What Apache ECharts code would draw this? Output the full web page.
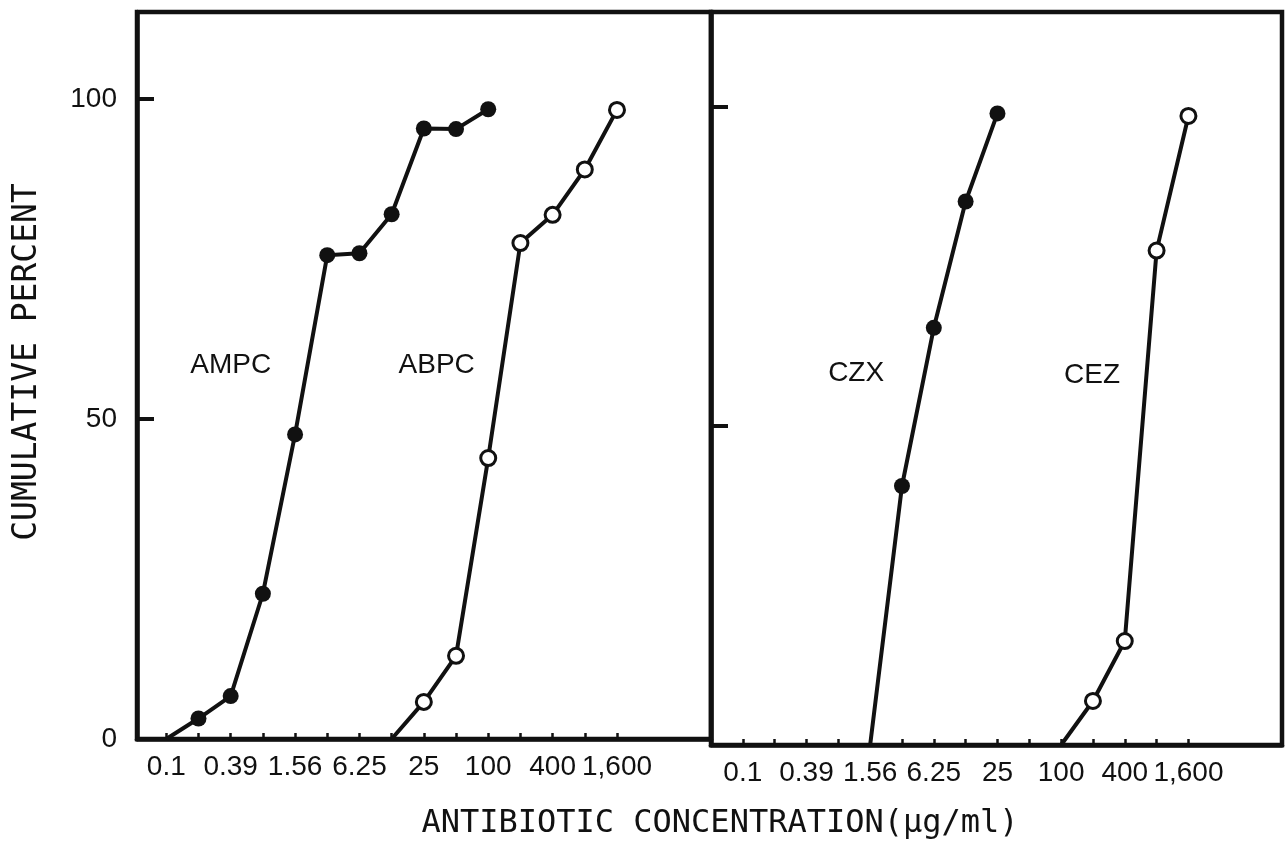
<!DOCTYPE html>
<html>
<head>
<meta charset="utf-8">
<script src="https://cdn.jsdelivr.net/npm/echarts@6/dist/echarts.min.js"></script>
<style>
  html, body { margin: 0; padding: 0; background: #fff; }
  #chart { width: 1285px; height: 852px; }
</style>
</head>
<body>
<div id="chart"></div>
<script>
// x = doubling-dilution step, 0 -> 0.1 ug/ml ... 14 -> 1,600 ug/ml
const tickSteps = [0, 2, 4, 6, 8, 10, 12, 14];
const tickLabels = ["0.1", "0.39", "1.56", "6.25", "25", "100", "400", "1,600"];
const minorSteps = [0, 1, 2, 3, 4, 5, 6, 7, 8, 9, 10, 11, 12, 13, 14];
const yTicks = [0, 50, 100];

const ampcSteps = [0, 1, 2, 3, 4, 5, 6, 7, 8, 9, 10];
const ampcPct = [0, 3.2, 6.7, 22.7, 47.6, 75.6, 75.9, 82, 95.4, 95.3, 98.4];
const abpcSteps = [7, 8, 9, 10, 11, 12, 13, 14];
const abpcPct = [0, 5.8, 13, 43.9, 77.5, 81.9, 89, 98.3];
const czxSteps = [4, 5, 6, 7, 8];
const czxPct = [0, 40.6, 65.4, 85.2, 99];
const cezSteps = [10, 11, 12, 13, 14];
const cezPct = [0, 6.9, 16.3, 77.5, 98.6];

const FONT = "Liberation Sans";
const INK = "#111";

function pts(steps, pct) {
    return steps.map((s, i) => {
        const item = { value: [s, pct[i]] };
        if (pct[i] === 0) item.symbol = "none"; // curve starts on the axis, no marker
        return item;
    });
}

function xAxis(gridIndex, min, max) {
    return {
        type: "value",
        gridIndex: gridIndex,
        min: min,
        max: max,
        splitLine: { show: false },
        axisLine: { onZero: false, lineStyle: { color: INK, width: 4.5 } },
        axisTick: { inside: true, length: 6, customValues: minorSteps, lineStyle: { color: INK, width: 2.5 } },
        axisLabel: {
            customValues: tickSteps,
            formatter: v => tickLabels[tickSteps.indexOf(v)],
            color: INK, fontFamily: FONT, fontSize: 28, margin: 14
        }
    };
}

function yAxis(gridIndex, max, showLabels) {
    return {
        type: "value",
        gridIndex: gridIndex,
        min: 0,
        max: max,
        splitLine: { show: false },
        axisLine: { onZero: false, lineStyle: { color: INK, width: 4.5 } },
        axisTick: { inside: true, length: 17, customValues: [50, 100], lineStyle: { color: INK, width: 4 } },
        axisLabel: {
            show: showLabels,
            customValues: yTicks,
            color: INK, fontFamily: FONT, fontSize: 28, margin: 20
        }
    };
}

function curve(name, idx, steps, pct, filled, labelAt) {
    return {
        name: name,
        type: "line",
        xAxisIndex: idx,
        yAxisIndex: idx,
        data: pts(steps, pct),
        symbol: "circle",
        symbolSize: filled ? 16 : 15,
        lineStyle: { color: INK, width: 4 },
        itemStyle: filled
            ? { color: INK, borderColor: INK, borderWidth: 0 }
            : { color: "#fff", borderColor: INK, borderWidth: 3 },
        markPoint: {
            symbol: "circle",
            symbolSize: 0,
            data: [{ coord: labelAt }],
            label: { show: true, formatter: name, color: INK, fontFamily: FONT, fontSize: 28 }
        },
        z: 3
    };
}

const chart = echarts.init(document.getElementById("chart"));
chart.setOption({
    animation: false,
    backgroundColor: "#fff",
    grid: [
        { left: 137, top: 12, width: 574, height: 727, show: true, borderColor: INK, borderWidth: 4.5 },
        { left: 711, top: 12, width: 571, height: 733, show: true, borderColor: INK, borderWidth: 4.5 }
    ],
    xAxis: [xAxis(0, -0.91, 16.92), xAxis(1, -1.0, 16.94)],
    yAxis: [yAxis(0, 113.6, true), yAxis(1, 114.9, false)],
    series: [
        curve("AMPC", 0, ampcSteps, ampcPct, true, [2.0, 58.4]),
        curve("ABPC", 0, abpcSteps, abpcPct, false, [8.4, 58.4]),
        curve("CZX", 1, czxSteps, czxPct, true, [3.56, 58.3]),
        curve("CEZ", 1, cezSteps, cezPct, false, [10.97, 57.9])
    ],
    graphic: [
        {
            type: "text", x: 720, y: 824,
            style: {
                text: "ANTIBIOTIC CONCENTRATION(\u03bcg/ml)",
                fill: INK, font: "32px 'DejaVu Sans Mono'",
                textAlign: "center", textVerticalAlign: "middle"
            }
        },
        {
            type: "text", x: 27, y: 362, rotation: Math.PI / 2,
            style: {
                text: "CUMULATIVE PERCENT",
                fill: INK, font: "33px 'DejaVu Sans Mono'",
                textAlign: "center", textVerticalAlign: "middle"
            }
        }
    ]
});
</script>
</body>
</html>
